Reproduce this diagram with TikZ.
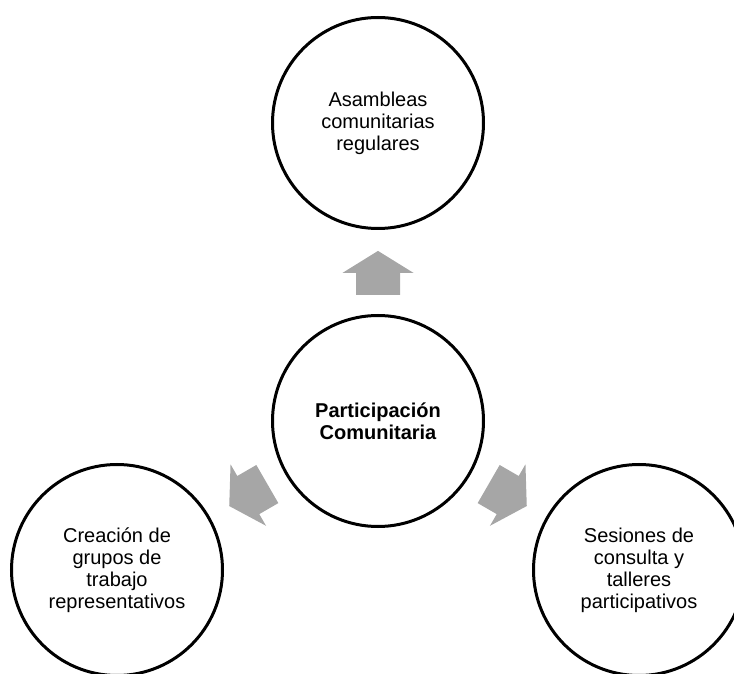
\documentclass[tikz,border=0pt]{standalone}
\usepackage{fontspec}
\setmainfont{Liberation Sans}
\usetikzlibrary{positioning,calc}
\definecolor{arrowGray}{RGB}{166,166,166}
\tikzset{
  ring/.style={circle, draw=black, line width=3pt, minimum size=211pt, inner sep=0pt, align=center, font=\fontsize{20}{22}\selectfont},
  hubring/.style={ring, font=\fontsize{20}{22.3}\selectfont\bfseries},
  blockarrow/.pic={\fill[arrowGray] (-22pt,-22pt) -- (0pt,-22pt) -- (0pt,-35.5pt) -- (22pt,0pt) -- (0pt,35.5pt) -- (0pt,22pt) -- (-22pt,22pt) -- cycle;}
}
\begin{document}
\begin{tikzpicture}[node distance=298pt, on grid]
        \clip (0,0) rectangle (734pt,673pt);
        \node[hubring] (hub) at (378pt,252pt) {Participación\\Comunitaria};
        \node[ring, above=of hub] (asam) {Asambleas\\comunitarias\\regulares};
        \node[ring, below left=149pt and 261pt of hub] (grup) {Creación de\\grupos de\\trabajo\\representativos};
        \node[ring, below right=149pt and 261pt of hub] (ses) {Sesiones de\\consulta y\\talleres\\participativos};
        \pic[rotate=90] at ($(hub)!0.497!(asam)$) {blockarrow};
        \pic[rotate=210] at ($(hub)!0.497!(grup)$) {blockarrow};
        \pic[rotate=330] at ($(hub)!0.497!(ses)$) {blockarrow};
      \end{tikzpicture}
\end{document}
